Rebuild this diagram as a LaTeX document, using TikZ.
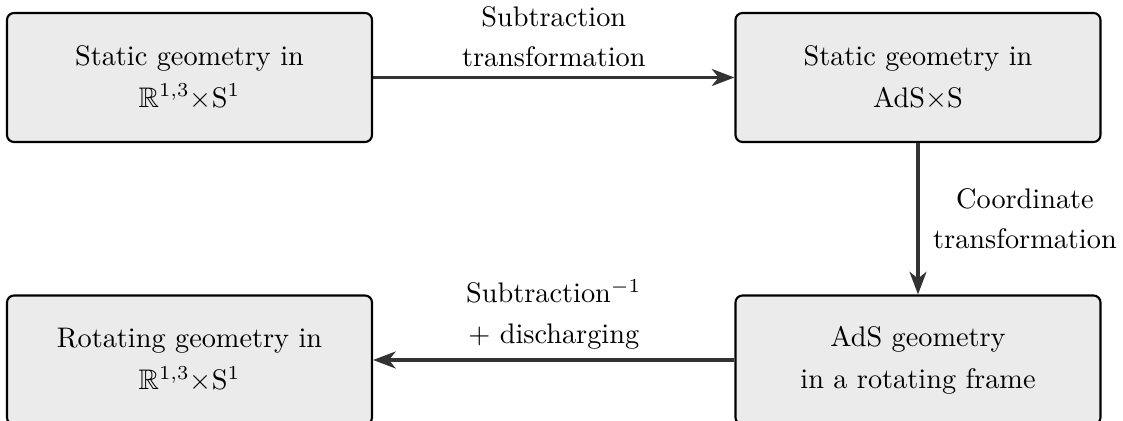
\documentclass[tikz,border=0pt]{standalone}
\usepackage{amssymb}
\usetikzlibrary{arrows.meta}
\definecolor{boxfill}{HTML}{EBEBEB}
\definecolor{arrowgray}{HTML}{333333}
\tikzset{
  stagebox/.style={draw=black, line width=0.75pt, fill=boxfill, rounded corners=2.5pt,
    minimum width=129pt, minimum height=45.6pt, align=center,
    font=\fontsize{10}{14.8}\selectfont},
  flowarrow/.style={draw=arrowgray, line width=1.1pt,
    -{Stealth[length=8pt,width=6pt,inset=2.4pt]}},
  edgelabel/.style={align=center, font=\fontsize{10}{14.2}\selectfont, text=black}
}
\begin{document}
\begin{tikzpicture}[x=0.3534pt, y=-0.3534pt]
  \useasboundingbox (0,0) rectangle (1123,421);
  \node[stagebox] (A) at (189.5,77.5) {Static geometry in\\ $\mathbb{R}^{1,3}{\times}\mathrm{S}^1$};
  \node[stagebox] (B) at (918,77.5) {Static geometry in\\ AdS$\times$S};
  \node[stagebox] (C) at (918,360) {AdS geometry\\ in a rotating frame};
  \node[stagebox] (D) at (189.5,360) {Rotating geometry in\\ $\mathbb{R}^{1,3}{\times}\mathrm{S}^1$};
  \draw[flowarrow] (A) -- node[edgelabel, above] (lab1) {Subtraction\\ transformation} (B);
  \draw[flowarrow] (B) -- node[edgelabel, right, xshift=1.5pt] (lab2) {Coordinate\\ transformation} (C);
  \draw[flowarrow] (C) -- node[edgelabel, above] (lab3) {Subtraction$^{-1}$\\ + discharging} (D);
\end{tikzpicture}
\end{document}
